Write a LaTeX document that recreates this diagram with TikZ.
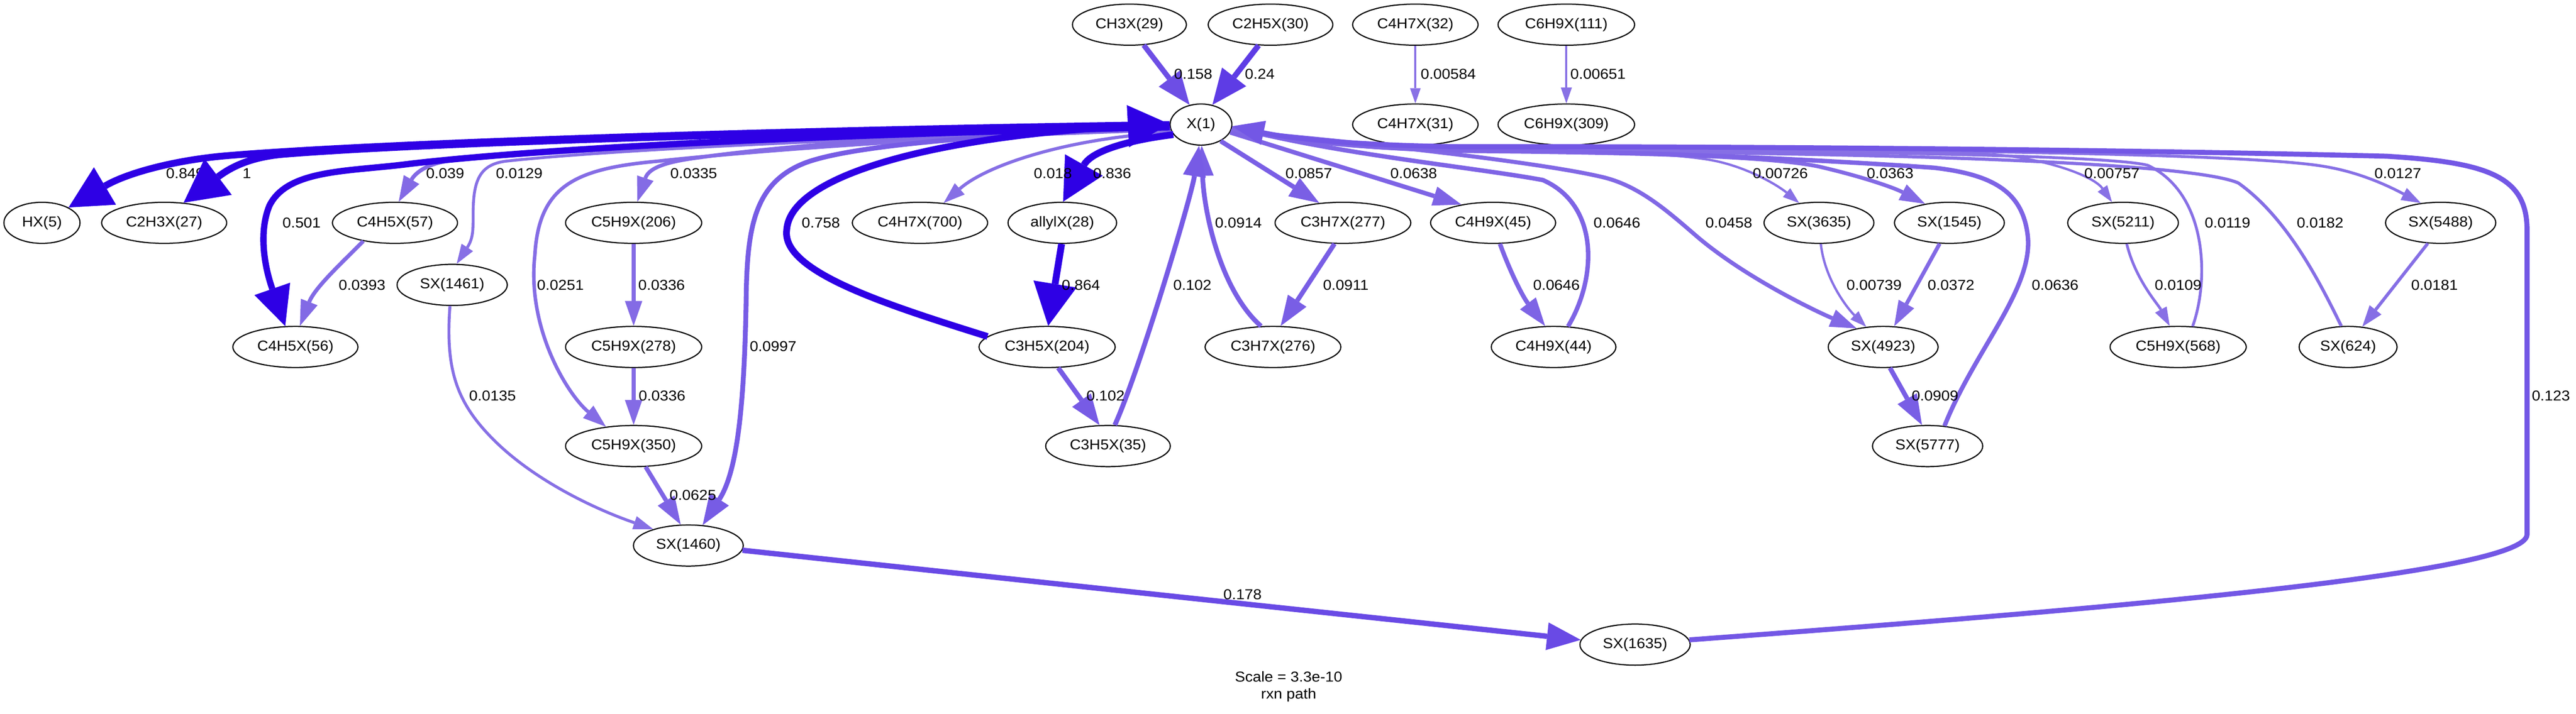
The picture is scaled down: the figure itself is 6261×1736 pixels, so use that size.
\documentclass[tikz,border=0pt]{standalone}
\usepackage{fontspec}
\setmainfont{Liberation Sans}[FakeStretch=1.06]
\usetikzlibrary{arrows.meta,shapes.geometric}
\tikzset{
  spn/.style={ellipse, draw=black, line width=0.28mm, inner sep=0pt,
    minimum height=10mm, font=\fontsize{9.96pt}{12pt}\selectfont},
  flab/.style={inner sep=0pt, font=\fontsize{9.96pt}{12pt}\selectfont},
  ttl/.style={inner sep=0pt, align=center, font=\fontsize{9.96pt}{11.96pt}\selectfont},
  flux/.code={%
    \pgfmathsetmacro\fxw{(17+5.3*log10(#1))/10}%
    \pgfmathsetmacro\fxpw{6+1.738*log10(#1)}%
    \pgfmathsetmacro\fxl{(105+30.4*log10(#1))/10}%
    \pgfmathsetmacro\fxW{0.7*\fxl*max(1,\fxpw/4)}%
    \pgfmathsetmacro\fxs{min(1,#1+0.5)}%
    \pgfmathsetmacro\fxr{0.9*(1-0.8*\fxs)}%
    \pgfmathsetmacro\fxg{0.9*(1-\fxs)}%
    \definecolor{fxc}{rgb}{\fxr,\fxg,0.9}%
    \edef\fxtmp{\noexpand\pgfkeysalso{line width=\fxw mm,draw=fxc,arrows={-{Triangle[length=\fxl mm,width=\fxW mm,line width=0pt]}}}}%
    \fxtmp}
}
\begin{document}
\begin{tikzpicture}[x=0.1mm,y=-0.1mm]
\fill[white] (0,0) rectangle (6261,1736);
\useasboundingbox (0,0) rectangle (6261,1736);
% ---------- nodes ----------
\node[spn, minimum width=27.7mm] (n29) at (2745,60) {CH3X(29)};
\node[spn, minimum width=30.3mm] (n30) at (3088,60) {C2H5X(30)};
\node[spn, minimum width=30.5mm] (n32) at (3440,60) {C4H7X(32)};
\node[spn, minimum width=33.2mm] (n111) at (3807,60) {C6H9X(111)};
\node[spn, minimum width=15mm] (n1) at (2919,303) {X(1)};
\node[spn, minimum width=30.5mm] (n31) at (3440,303) {C4H7X(31)};
\node[spn, minimum width=33.2mm] (n309) at (3807,303) {C6H9X(309)};
\node[spn, minimum width=18.5mm] (n5) at (102,542) {HX(5)};
\node[spn, minimum width=30.4mm] (n27) at (399,542) {C2H3X(27)};
\node[spn, minimum width=30.4mm] (n57) at (960,542) {C4H5X(57)};
\node[spn, minimum width=33.1mm] (n206) at (1540,542) {C5H9X(206)};
\node[spn, minimum width=32.9mm] (n700) at (2236,542) {C4H7X(700)};
\node[spn, minimum width=26.4mm] (n28) at (2582,542) {allylX(28)};
\node[spn, minimum width=33mm] (n277) at (3264,542) {C3H7X(277)};
\node[spn, minimum width=30.4mm] (n45) at (3629,542) {C4H9X(45)};
\node[spn, minimum width=26.7mm] (n3635) at (4421,542) {SX(3635)};
\node[spn, minimum width=26.7mm] (n1545) at (4738,542) {SX(1545)};
\node[spn, minimum width=26.9mm] (n5211) at (5160,542) {SX(5211)};
\node[spn, minimum width=26.8mm] (n5488) at (5932,542) {SX(5488)};
\node[spn, minimum width=26.8mm] (n1461) at (1099,693) {SX(1461)};
\node[spn, minimum width=30.4mm] (n56) at (718,844) {C4H5X(56)};
\node[spn, minimum width=33.1mm] (n278) at (1540,844) {C5H9X(278)};
\node[spn, minimum width=33.1mm] (n204) at (2545,844) {C3H5X(204)};
\node[spn, minimum width=33mm] (n276) at (3094,844) {C3H7X(276)};
\node[spn, minimum width=30.3mm] (n44) at (3776,844) {C4H9X(44)};
\node[spn, minimum width=26.7mm] (n4923) at (4577,844) {SX(4923)};
\node[spn, minimum width=33.1mm] (n568) at (5294,844) {C5H9X(568)};
\node[spn, minimum width=23.8mm] (n624) at (5707,844) {SX(624)};
\node[spn, minimum width=33.1mm] (n350) at (1540,1085) {C5H9X(350)};
\node[spn, minimum width=30.3mm] (n35) at (2693,1085) {C3H5X(35)};
\node[spn, minimum width=26.8mm] (n5777) at (4685,1085) {SX(5777)};
\node[spn, minimum width=26.7mm] (n1460) at (1673,1327) {SX(1460)};
\node[spn, minimum width=26.8mm] (n1635) at (3974,1568) {SX(1635)};
\node[ttl] (title) at (3132,1670) {Scale = 3.3e-10\\rxn path};
% ---------- edges (ascending flux) ----------
\draw[flux=0.00584] (n32.south) -- (n31.north);
\draw[flux=0.00651] (n111.south) -- (n309.north);
\draw[flux=0.00726] (n1.-8) .. controls (3150,340) and (3350,362) .. (3600,364) .. controls (3850,366) and (4050,372) .. (4150,388) .. controls (4240,402) and (4320,450) .. (n3635.135);
\draw[flux=0.00739] (n3635.-85) .. controls (4435,680) and (4490,750) .. (n4923.130);
\draw[flux=0.00757] (n1.-7) .. controls (3150,340) and (3350,361) .. (3600,362) .. controls (4200,364) and (4700,362) .. (4870,378) .. controls (4990,392) and (5090,430) .. (n5211.118);
\draw[flux=0.0109] (n5211.-80) .. controls (5190,680) and (5245,740) .. (n568.112);
\draw[flux=0.0119] (n568.55) .. controls (5370,680) and (5365,470) .. (5220,402) .. controls (5100,372) and (4200,366) .. (3600,366) .. controls (3350,364) and (3150,344) .. (n1.-4);
\draw[flux=0.0127] (n1.-6) .. controls (3150,338) and (3350,360) .. (3600,360) .. controls (4500,362) and (5450,370) .. (5650,405) .. controls (5740,420) and (5810,455) .. (n5488.135);
\draw[flux=0.0129] (n1.189) .. controls (2200,332) and (1500,362) .. (1230,392) .. controls (1165,400) and (1150,440) .. (1150,520) .. controls (1150,560) and (1150,580) .. (n1461.78);
\draw[flux=0.0135] (n1461.-96) .. controls (1082,900) and (1110,980) .. (1200,1070) .. controls (1300,1170) and (1450,1240) .. (n1460.155);
\draw[flux=0.018] (n1.195) .. controls (2600,335) and (2400,400) .. (n700.40);
\draw[flux=0.0181] (n5488.-122) -- (n624.55);
\draw[flux=0.0182] (n624.108) .. controls (5640,690) and (5560,530) .. (5440,445) .. controls (5300,385) and (4300,368) .. (3600,368) .. controls (3350,366) and (3150,346) .. (n1.-5);
\draw[flux=0.0251] (n1.190) .. controls (2300,330) and (1800,370) .. (1600,392) .. controls (1400,410) and (1310,450) .. (1300,620) .. controls (1280,800) and (1380,960) .. (n350.145);
\draw[flux=0.0335] (n1.188) .. controls (2300,322) and (1900,355) .. (1700,383) .. controls (1630,392) and (1578,405) .. (n206.80);
\draw[flux=0.0336] (n206.south) -- (n278.north);
\draw[flux=0.0336] (n278.south) -- (n350.north);
\draw[flux=0.0363] (n1.-9) .. controls (3150,342) and (3350,366) .. (3600,368) .. controls (4000,372) and (4300,380) .. (4420,405) .. controls (4520,428) and (4600,455) .. (n1545.142);
\draw[flux=0.0372] (n1545.-115) -- (n4923.62);
\draw[flux=0.039] (n1.187) .. controls (2200,328) and (1400,360) .. (1100,390) .. controls (1040,396) and (1010,420) .. (n57.80);
\draw[flux=0.0393] (n57.-150) .. controls (830,640) and (765,700) .. (n56.78);
\draw[flux=0.0458] (n1.-12) .. controls (3300,345) and (3750,395) .. (3900,432) .. controls (3990,455) and (4060,520) .. (4130,580) .. controls (4250,680) and (4420,760) .. (n4923.145);
\draw[flux=0.0625] (n350.-60) -- (n1460.110);
\draw[flux=0.0636] (n5777.50) .. controls (4800,850) and (4945,700) .. (4928,570) .. controls (4915,470) and (4850,425) .. (4700,408) .. controls (4300,380) and (3900,368) .. (3600,366) .. controls (3350,364) and (3150,344) .. (n1.-4);
\draw[flux=0.0638] (n1.-15) -- (n45.150);
\draw[flux=0.0646] (n45.-72) .. controls (3670,660) and (3700,720) .. (n44.112);
\draw[flux=0.0646] (n44.55) .. controls (3880,680) and (3890,500) .. (3750,438) .. controls (3600,410) and (3300,380) .. (n1.-5);
\draw[flux=0.0857] (n1.-40) -- (n277.140);
\draw[flux=0.0909] (n4923.-72) -- (n5777.105);
\draw[flux=0.0911] (n277.-112) -- (n276.70);
\draw[flux=0.0914] (n276.120) .. controls (2960,700) and (2925,500) .. (n1.-88);
\draw[flux=0.0997] (n1.183) .. controls (2500,325) and (2100,345) .. (1960,395) .. controls (1840,440) and (1818,540) .. (1814,700) .. controls (1810,1000) and (1790,1150) .. (n1460.55);
\draw[flux=0.102] (n204.-62) -- (n35.112);
\draw[flux=0.102] (n35.72) .. controls (2770,900) and (2895,480) .. (n1.-95);
\draw[flux=0.123] (n1635.5) .. controls (5000,1490) and (6142,1400) .. (6142,1300) -- (6142,560) .. controls (6142,430) and (6050,395) .. (5800,380) .. controls (5000,360) and (4000,356) .. (3600,357) .. controls (3350,357) and (3150,340) .. (n1.-3);
\draw[flux=0.158] (n29.-55) -- (n1.120);
\draw[flux=0.178] (n1460.-5) -- (n1635.175);
\draw[flux=0.24] (n30.-120) -- (n1.60);
\draw[flux=0.501] (n1.185) .. controls (2200,322) and (1400,352) .. (1000,398) .. controls (850,418) and (700,410) .. (655,500) .. controls (630,560) and (640,640) .. (n56.116);
\draw[flux=0.758] (n204.170) .. controls (2150,740) and (1900,660) .. (1912,560) .. controls (1920,420) and (2300,330) .. (n1.179);
\draw[flux=0.836] (n1.200) .. controls (2750,340) and (2655,365) .. (n28.88);
\draw[flux=0.849] (n1.180) .. controls (1800,318) and (900,350) .. (560,378) .. controls (430,388) and (310,420) .. (n5.30);
\draw[flux=0.864] (n28.268) -- (n204.87);
% ---------- edge labels ----------
\node[flab] (l1) at (450,422) {0.849};
\node[flab] (l2) at (600,422) {1};
\node[flab] (l3) at (733,542) {0.501};
\node[flab] (l4) at (1082,422) {0.039};
\node[flab] (l5) at (1262,422) {0.0129};
\node[flab] (l6) at (880,693) {0.0393};
\node[flab] (l7) at (1362,693) {0.0251};
\node[flab] (l8) at (1608,693) {0.0336};
\node[flab] (l9) at (1686,422) {0.0335};
\node[flab] (l10) at (1879,843) {0.0997};
\node[flab] (l11) at (1995,542) {0.758};
\node[flab] (l12) at (2559,422) {0.018};
\node[flab] (l13) at (2703,422) {0.836};
\node[flab] (l14) at (2627,693) {0.864};
\node[flab] (l15) at (2898,693) {0.102};
\node[flab] (l16) at (3010,542) {0.0914};
\node[flab] (l17) at (2900,180) {0.158};
\node[flab] (l18) at (3062,180) {0.24};
\node[flab] (l19) at (3181,422) {0.0857};
\node[flab] (l20) at (3436,422) {0.0638};
\node[flab] (l21) at (3930,542) {0.0646};
\node[flab] (l22) at (3271,693) {0.0911};
\node[flab] (l23) at (3783,693) {0.0646};
\node[flab] (l24) at (4202,542) {0.0458};
\node[flab] (l25) at (4327,422) {0.00726};
\node[flab] (l26) at (4594,422) {0.0363};
\node[flab] (l27) at (4555,693) {0.00739};
\node[flab] (l28) at (4742,693) {0.0372};
\node[flab] (l29) at (3520,180) {0.00584};
\node[flab] (l30) at (3884,180) {0.00651};
\node[flab] (l31) at (4995,693) {0.0636};
\node[flab] (l32) at (5133,422) {0.00757};
\node[flab] (l33) at (5414,542) {0.0119};
\node[flab] (l34) at (5294,693) {0.0109};
\node[flab] (l35) at (5639,542) {0.0182};
\node[flab] (l36) at (5828,422) {0.0127};
\node[flab] (l37) at (5917,693) {0.0181};
\node[flab] (l38) at (1197,963) {0.0135};
\node[flab] (l39) at (1609,963) {0.0336};
\node[flab] (l40) at (1684,1205) {0.0625};
\node[flab] (l41) at (2687,963) {0.102};
\node[flab] (l42) at (4703,963) {0.0909};
\node[flab] (l43) at (6200,963) {0.123};
\node[flab] (l44) at (3020,1446) {0.178};
% ---------- the strongest edge, drawn last (its arrow covers the 0.849 label) ----------
\draw[flux=1] (n1.182) .. controls (1800,322) and (1000,350) .. (690,375) .. controls (620,381) and (570,400) .. (n27.46);
\end{tikzpicture}
\end{document}
